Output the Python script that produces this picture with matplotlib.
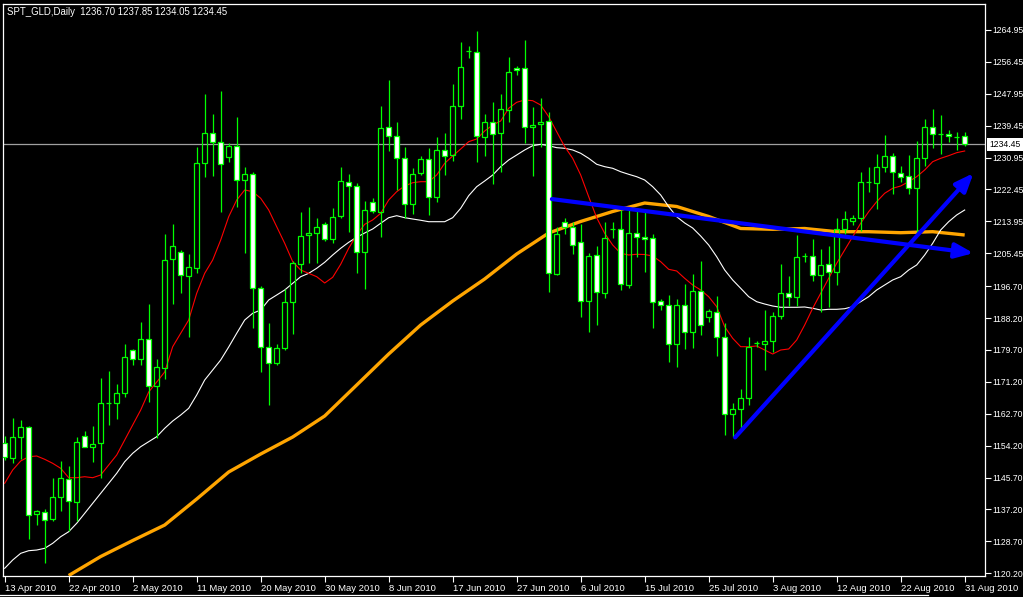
import matplotlib
matplotlib.use("Agg")
import matplotlib.pyplot as plt
from matplotlib.lines import Line2D
import numpy as np

plt.rcParams['font.family'] = ['Liberation Sans', 'DejaVu Sans']

title = "SPT_GLD,Daily  1236.70 1237.85 1234.05 1234.45"

date_label_bars = [0, 8, 16, 24, 32, 40, 48, 56, 64, 72, 80, 88, 96, 104, 112, 120]
date_labels = ["13 Apr 2010", "22 Apr 2010", "2 May 2010", "11 May 2010", "20 May 2010",
               "30 May 2010", "8 Jun 2010", "17 Jun 2010", "27 Jun 2010", "6 Jul 2010",
               "15 Jul 2010", "25 Jul 2010", "3 Aug 2010", "12 Aug 2010", "22 Aug 2010",
               "31 Aug 2010"]

ytick_values = [1264.95, 1256.45, 1247.95, 1239.45, 1230.95, 1222.45, 1213.95, 1205.45,
                1196.70, 1188.20, 1179.70, 1171.20, 1162.70, 1154.20, 1145.70, 1137.20,
                1128.70, 1120.20]
last_price = 1234.45

opens = [1154.91, 1150.83, 1156.43, 1159.09, 1135.91, 1136.61, 1134.58, 1140.60, 1145.32, 1139.27,
         1156.86, 1153.77, 1154.99, 1165.49, 1165.49, 1168.15, 1179.61, 1177.21, 1182.54, 1170.10,
         1174.81, 1203.86, 1205.88, 1199.49, 1201.62, 1229.43, 1237.43, 1235.03, 1231.03, 1234.12,
         1224.98, 1226.50, 1196.13, 1180.57, 1176.31, 1180.30, 1192.40, 1202.52, 1210.25, 1210.78,
         1213.18, 1209.18, 1215.39, 1224.53, 1223.46, 1205.88, 1219.20, 1216.54, 1239.02, 1236.71,
         1230.76, 1218.51, 1226.93, 1230.50, 1220.53, 1232.90, 1231.64, 1244.70, 1259.35, 1259.17,
         1236.52, 1240.36, 1237.43, 1243.63, 1254.74, 1254.74, 1239.02, 1239.82, 1240.78, 1199.94,
         1213.71, 1212.46, 1208.38, 1192.82, 1205.00, 1194.96, 1211.93, 1211.85, 1197.01, 1210.78,
         1209.72, 1209.45, 1192.82, 1191.60, 1181.21, 1191.60, 1184.57, 1195.33, 1188.40, 1189.89,
         1183.07, 1162.56, 1163.89, 1166.82, 1181.47, 1181.21, 1182.17, 1188.83, 1194.96, 1193.73,
         1204.73, 1204.73, 1199.67, 1202.60, 1200.39, 1211.85, 1214.06, 1214.78, 1224.37, 1224.10,
         1228.53, 1231.46, 1226.77, 1226.05, 1222.77, 1230.76, 1239.02, 1237.24, 1237.24, 1236.52,
         1236.70]
highs = [1156.78, 1161.65, 1161.04, 1159.44, 1137.06, 1137.33, 1145.67, 1150.12, 1148.78, 1156.59,
         1158.19, 1159.44, 1172.23, 1174.09, 1170.63, 1181.29, 1179.88, 1187.15, 1191.87, 1177.29,
         1210.60, 1213.26, 1206.33, 1205.27, 1233.86, 1247.90, 1242.57, 1248.69, 1234.76, 1241.85,
         1228.37, 1227.10, 1196.74, 1186.96, 1181.21, 1195.94, 1203.40, 1216.38, 1217.87, 1214.78,
         1213.87, 1217.44, 1228.53, 1226.58, 1224.10, 1219.39, 1220.11, 1244.70, 1251.63, 1240.52,
         1233.86, 1228.10, 1231.38, 1233.59, 1236.52, 1237.43, 1250.48, 1261.83, 1260.76, 1264.68,
         1242.49, 1245.84, 1247.90, 1257.83, 1255.36, 1262.28, 1244.51, 1246.91, 1243.02, 1212.54,
         1214.78, 1213.87, 1213.18, 1205.45, 1207.48, 1213.87, 1213.87, 1216.99, 1216.99, 1216.99,
         1216.99, 1210.60, 1193.20, 1194.34, 1193.28, 1197.27, 1199.94, 1203.48, 1190.53, 1194.08,
         1186.80, 1165.49, 1169.22, 1183.23, 1182.17, 1190.35, 1189.89, 1202.60, 1199.49, 1210.33,
         1205.45, 1209.26, 1206.60, 1207.48, 1214.78, 1216.80, 1215.66, 1227.19, 1228.37, 1231.83,
         1236.97, 1232.10, 1228.71, 1231.64, 1235.45, 1241.15, 1243.90, 1242.30, 1238.30, 1237.85,
         1237.85]
lows = [1150.38, 1149.66, 1150.65, 1129.33, 1133.06, 1123.02, 1134.10, 1136.79, 1131.47, 1134.21,
        1153.77, 1149.93, 1145.51, 1159.71, 1161.31, 1167.25, 1175.69, 1175.69, 1165.92, 1156.16,
        1171.88, 1191.95, 1194.96, 1183.23, 1200.28, 1225.86, 1226.13, 1216.54, 1229.86, 1217.87,
        1205.61, 1185.47, 1173.91, 1165.04, 1175.69, 1179.69, 1183.95, 1200.28, 1202.95, 1202.95,
        1208.73, 1208.12, 1214.94, 1211.21, 1200.12, 1195.94, 1216.11, 1209.88, 1232.71, 1222.32,
        1214.78, 1215.84, 1226.31, 1215.66, 1219.04, 1226.31, 1230.04, 1241.23, 1257.41, 1229.70,
        1231.46, 1223.84, 1227.19, 1240.52, 1252.96, 1234.76, 1226.13, 1233.86, 1195.22, 1199.67,
        1210.52, 1205.27, 1188.56, 1184.40, 1186.35, 1193.62, 1209.45, 1195.68, 1196.13, 1204.39,
        1200.55, 1185.47, 1190.35, 1176.57, 1175.08, 1179.96, 1180.30, 1183.69, 1187.23, 1178.09,
        1157.04, 1156.59, 1158.56, 1165.04, 1180.57, 1174.36, 1179.24, 1187.95, 1191.41, 1191.49,
        1203.22, 1198.15, 1189.89, 1191.23, 1197.01, 1210.60, 1212.99, 1211.47, 1221.87, 1217.18,
        1227.19, 1221.25, 1224.53, 1221.17, 1210.94, 1228.71, 1233.43, 1231.83, 1235.03, 1232.98,
        1234.05]
closes = [1151.18, 1156.43, 1159.09, 1135.73, 1136.87, 1134.40, 1140.44, 1145.51, 1139.46, 1155.26,
          1153.93, 1154.73, 1165.49, 1165.55, 1168.15, 1177.74, 1177.21, 1182.54, 1170.10, 1175.08,
          1203.67, 1207.40, 1199.67, 1201.72, 1229.43, 1237.43, 1235.03, 1229.17, 1234.12, 1224.98,
          1226.50, 1196.13, 1180.57, 1176.15, 1180.30, 1192.40, 1202.79, 1210.06, 1210.94, 1212.38,
          1209.18, 1215.20, 1224.72, 1223.46, 1205.88, 1216.99, 1216.72, 1238.76, 1236.71, 1230.76,
          1218.51, 1226.50, 1230.58, 1220.53, 1232.90, 1231.38, 1244.70, 1255.01, 1259.45, 1236.71,
          1240.36, 1237.16, 1243.82, 1253.68, 1254.21, 1239.02, 1239.64, 1240.52, 1200.12, 1210.52,
          1212.46, 1207.66, 1192.82, 1204.73, 1195.06, 1209.45, 1212.00, 1197.19, 1210.78, 1209.72,
          1209.18, 1192.40, 1191.68, 1181.21, 1191.60, 1184.57, 1195.33, 1186.35, 1190.00, 1183.07,
          1162.56, 1163.89, 1166.82, 1180.57, 1181.55, 1182.17, 1188.83, 1194.96, 1193.73, 1204.39,
          1204.80, 1199.67, 1202.34, 1200.39, 1211.85, 1214.51, 1214.78, 1224.37, 1224.45, 1228.37,
          1231.46, 1227.19, 1225.86, 1222.77, 1230.76, 1239.02, 1237.16, 1237.30, 1236.71, 1236.60,
          1234.45]

ma_red = [1144.17, 1147.72, 1150.12, 1151.26, 1151.45, 1150.57, 1149.50, 1148.17, 1145.67, 1145.67,
          1145.93, 1145.67, 1146.39, 1149.05, 1151.71, 1155.71, 1159.71, 1163.70, 1168.50, 1171.16,
          1173.83, 1180.57, 1184.14, 1187.68, 1194.80, 1200.12, 1203.67, 1209.00, 1215.20, 1219.65,
          1222.32, 1221.87, 1220.11, 1216.99, 1212.54, 1208.12, 1203.22, 1201.00, 1200.12, 1199.22,
          1197.54, 1199.06, 1202.52, 1206.79, 1210.33, 1213.18, 1214.33, 1216.11, 1219.65, 1221.87,
          1223.38, 1224.26, 1224.53, 1224.53, 1226.31, 1229.43, 1231.38, 1233.24, 1235.19, 1235.91,
          1238.04, 1239.64, 1240.70, 1244.09, 1245.68, 1246.30, 1246.11, 1244.96, 1241.85, 1237.85,
          1233.86, 1230.76, 1226.31, 1220.53, 1214.94, 1210.78, 1207.66, 1205.45, 1205.00, 1205.19,
          1205.13, 1204.73, 1203.22, 1201.19, 1200.74, 1198.79, 1197.01, 1195.68, 1193.89, 1191.23,
          1185.90, 1182.81, 1180.57, 1180.57, 1180.76, 1179.69, 1178.62, 1179.69, 1179.96, 1182.35,
          1186.35, 1190.80, 1194.80, 1198.79, 1202.79, 1206.33, 1209.88, 1213.45, 1216.54, 1219.20,
          1221.44, 1222.77, 1223.38, 1224.53, 1225.86, 1227.65, 1229.86, 1230.76, 1231.46, 1232.26,
          1232.71]
ma_white = [1121.53, 1123.74, 1125.52, 1126.22, 1126.40, 1126.86, 1128.19, 1129.95, 1131.28, 1133.52,
            1136.18, 1138.85, 1141.51, 1144.17, 1146.84, 1149.93, 1152.17, 1153.93, 1155.26, 1156.59,
            1158.83, 1160.77, 1162.37, 1164.16, 1167.70, 1171.70, 1174.36, 1177.03, 1180.49, 1184.14,
            1187.68, 1189.47, 1190.35, 1193.01, 1194.34, 1195.68, 1197.46, 1199.22, 1200.12, 1201.46,
            1203.06, 1205.00, 1206.79, 1208.38, 1209.72, 1210.86, 1211.93, 1213.45, 1214.94, 1215.47,
            1214.94, 1214.59, 1214.25, 1213.87, 1213.87, 1213.87, 1214.94, 1217.44, 1220.80, 1223.20,
            1224.72, 1226.31, 1228.53, 1230.31, 1231.64, 1232.98, 1234.12, 1234.49, 1234.12, 1233.59,
            1233.43, 1232.98, 1232.10, 1230.76, 1229.17, 1228.53, 1228.10, 1227.19, 1226.50, 1225.86,
            1224.98, 1223.20, 1220.99, 1217.87, 1215.20, 1213.53, 1212.19, 1210.06, 1207.66, 1204.55,
            1201.00, 1198.34, 1196.13, 1193.89, 1192.56, 1191.94, 1191.41, 1191.07, 1191.07, 1191.07,
            1191.15, 1190.80, 1190.35, 1190.53, 1190.53, 1190.69, 1191.23, 1192.56, 1193.89, 1195.68,
            1197.01, 1198.34, 1199.22, 1201.00, 1202.34, 1205.00, 1208.12, 1211.66, 1213.87, 1215.66,
            1216.99]
ma_orange_bars = [8, 12, 16, 20, 24, 28, 32, 36, 40, 44, 48, 52, 56, 60, 64, 68, 72, 76, 80,
                  84, 88, 92, 96, 100, 104, 108, 112, 116, 120]
ma_orange = [1119.61, 1124.67, 1128.93, 1133.06, 1139.99, 1147.19, 1151.98, 1156.51, 1162.11,
             1170.36, 1178.62, 1186.35, 1192.74, 1198.61, 1205.27, 1210.86, 1213.93, 1216.59,
             1218.85, 1217.92, 1215.26, 1212.06, 1211.85, 1212.06, 1211.21, 1211.21, 1210.94,
             1211.21, 1210.33]

trend1_start = (68.4, 1219.9)
trend1_end = (121.1, 1205.5)
trend2_start = (91.3, 1156.4)
trend2_end = (121.1, 1226.8)

W, H = 1023, 597
GREEN = '#00FF00'
fig = plt.figure(figsize=(W / 100, H / 100), dpi=100, facecolor='black')
L, R, T, B = 3, 985, 4, 576
ax = fig.add_axes([L / W, 1 - B / H, (R - L) / W, (B - T) / H])
ax.set_facecolor('black')
ax.set_xlim(-0.2125, 122.54)
ax.set_ylim(1119.48, 1271.87)

x = np.arange(len(opens))
# moving averages
ax.plot(ma_orange_bars, ma_orange, color='#FFA500', lw=2.4, zorder=2, solid_capstyle='butt')
ax.plot(x, ma_white, color='white', lw=0.8, zorder=2)
ax.plot(x, ma_red, color='#FF0000', lw=0.8, zorder=2)
ax.axhline(last_price, color='#a0a0a0', lw=0.9, zorder=1)

bw = 0.56
for i in range(len(opens)):
    o, h, l, c = opens[i], highs[i], lows[i], closes[i]
    top, bot = max(o, c), min(o, c)
    if abs(c - o) < 0.15:
        ax.vlines(i, l, h, color=GREEN, lw=0.9, zorder=3)
        ax.hlines(o, i - bw / 2, i + bw / 2, color=GREEN, lw=0.9, zorder=3)
        continue
    ax.vlines(i, top, h, color=GREEN, lw=0.9, zorder=3)
    ax.vlines(i, l, bot, color=GREEN, lw=0.9, zorder=3)
    face = 'white' if c < o else 'none'
    ax.bar(i, top - bot, bottom=bot, width=bw, facecolor=face, edgecolor=GREEN,
           linewidth=0.9, zorder=4)

arrow_props = dict(arrowstyle='-|>,head_length=1.1,head_width=0.45', color='#0000FF',
                   lw=3.0, shrinkA=0, shrinkB=0)
ax.annotate('', xy=trend1_end, xytext=trend1_start, arrowprops=arrow_props, zorder=6)
ax.annotate('', xy=trend2_end, xytext=trend2_start, arrowprops=arrow_props, zorder=6)

for s in ax.spines.values():
    s.set_color('white')
    s.set_linewidth(0.9)

ax.yaxis.tick_right()
ax.set_yticks(ytick_values)
ax.set_yticklabels(['%.2f' % v for v in ytick_values])
ax.tick_params(axis='y', colors='white', length=4, width=0.8, pad=1.5, labelsize=6.2)
ax.set_xticks(date_label_bars)
ax.set_xticklabels(date_labels)
for lab in ax.get_xticklabels():
    lab.set_horizontalalignment('left')
ax.tick_params(axis='x', colors='white', length=4, width=0.8, pad=1.5, labelsize=6.8)

fig.text(7 / W, 1 - 12 / H, title, color='white', fontsize=6.9, va='center', ha='left')

# current price label
ybox = ax.transData.transform((0, last_price))[1] / H
fig.patches.append(plt.Rectangle((987 / W, ybox - 6.5 / H), 36 / W, 13 / H, transform=fig.transFigure,
                                 facecolor='white', edgecolor='none', zorder=5))
fig.text(989 / W, ybox, '%.2f' % last_price, color='black', fontsize=6.2, va='center', ha='left', zorder=6)

fig.add_artist(Line2D([0, 928 / W], [1 - 595 / H, 1 - 595 / H], transform=fig.transFigure,
                      color='white', lw=0.9))

fig.savefig('out.png', dpi=100, facecolor='black')
